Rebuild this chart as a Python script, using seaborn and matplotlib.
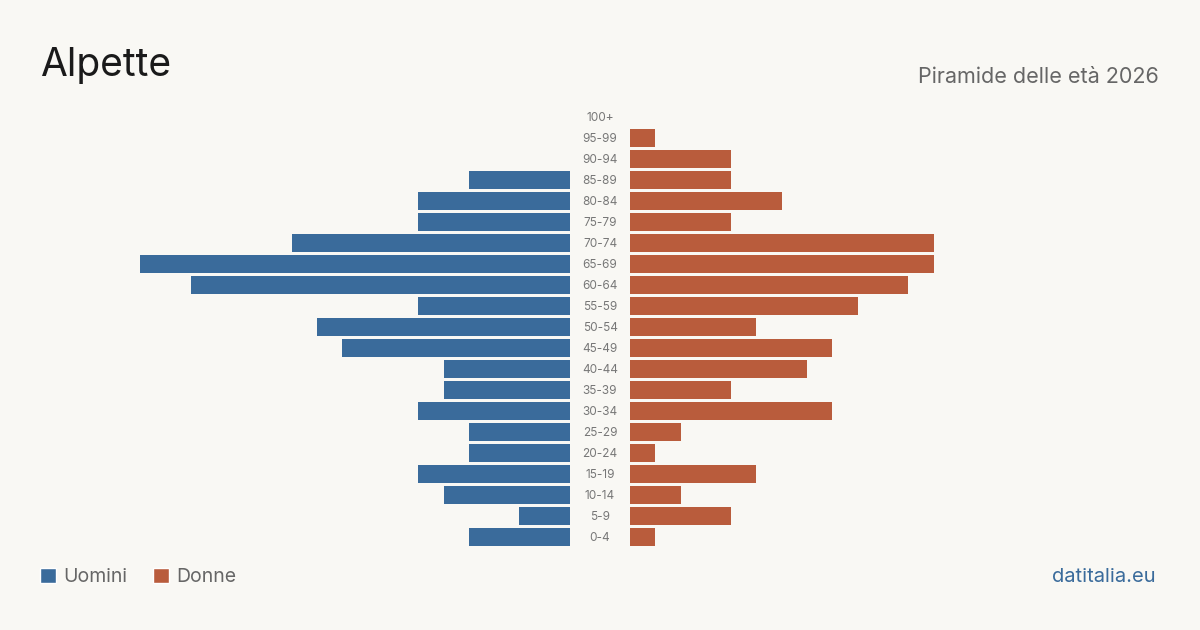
import pandas as pd
import matplotlib.pyplot as plt
import matplotlib.transforms as mtransforms
import seaborn as sns
from matplotlib.patches import Patch

sns.set_theme(style="white")
plt.rcParams['font.family'] = ['Inter', 'DejaVu Sans']

bg = '#f9f8f4'
blue = '#3a6b9b'
orange = '#b95c3c'

age_groups = ['100+', '95-99', '90-94', '85-89', '80-84', '75-79', '70-74', '65-69',
              '60-64', '55-59', '50-54', '45-49', '40-44', '35-39', '30-34', '25-29',
              '20-24', '15-19', '10-14', '5-9', '0-4']
uomini = [0, 0, 0, 4, 6, 6, 11, 17, 15, 6, 10, 9, 5, 5, 6, 4, 4, 6, 5, 2, 4]
donne = [0, 1, 4, 4, 6, 4, 12, 12, 11, 9, 5, 8, 7, 4, 8, 2, 1, 5, 2, 4, 1]

df = pd.DataFrame({'eta': age_groups, 'Uomini': uomini, 'Donne': donne})
xmax = max(max(uomini), max(donne))

fig = plt.figure(figsize=(12, 6.3), dpi=100, facecolor=bg)
ax_l = fig.add_axes([140 / 1200, 82.5 / 630, 430 / 1200, 441 / 630])
ax_r = fig.add_axes([630 / 1200, 82.5 / 630, 430 / 1200, 441 / 630])

sns.barplot(data=df, y='eta', x='Uomini', order=age_groups, color=blue,
            saturation=1, width=0.81, linewidth=0, ax=ax_l)
sns.barplot(data=df, y='eta', x='Donne', order=age_groups, color=orange,
            saturation=1, width=0.81, linewidth=0, ax=ax_r)

for ax in (ax_l, ax_r):
    ax.set_facecolor(bg)
    ax.set_xlim(0, xmax)
    ax.set_ylim(len(age_groups) - 0.5, -0.5)
    ax.set_xlabel('')
    ax.set_ylabel('')
    ax.set_xticks([])
    ax.set_yticks([])
    for s in ax.spines.values():
        s.set_visible(False)

ax_l.invert_xaxis()

# etichette delle classi d'età al centro
trans = mtransforms.blended_transform_factory(ax_r.transAxes, ax_r.transData)
for i, lab in enumerate(age_groups):
    ax_r.text(-30 / 430, i + 0.05, lab, transform=trans, ha='center', va='center',
              fontsize=8.5, color='#777777')

fig.text(40 / 1200, 1 - 66 / 630, 'Alpette', fontsize=28, color='#1a1a1a',
         ha='left', va='center')
fig.text(1159 / 1200, 1 - 77 / 630, 'Piramide delle età 2026', fontsize=15.5,
         color='#666666', ha='right', va='center')
fig.text(1156 / 1200, 1 - 577 / 630, 'datitalia.eu', fontsize=14.5,
         color=blue, ha='right', va='center')

handles = [Patch(facecolor=blue, label='Uomini'), Patch(facecolor=orange, label='Donne')]
leg = fig.legend(handles=handles, loc='center left', bbox_to_anchor=(40 / 1200, 1 - 577 / 630),
                 ncol=2, frameon=False, fontsize=14, handlelength=0.82, handleheight=0.82,
                 handletextpad=0.4, columnspacing=1.3, borderpad=0, borderaxespad=0)
for t in leg.get_texts():
    t.set_color('#666666')

fig.savefig('out.png', dpi=100, facecolor=bg)
